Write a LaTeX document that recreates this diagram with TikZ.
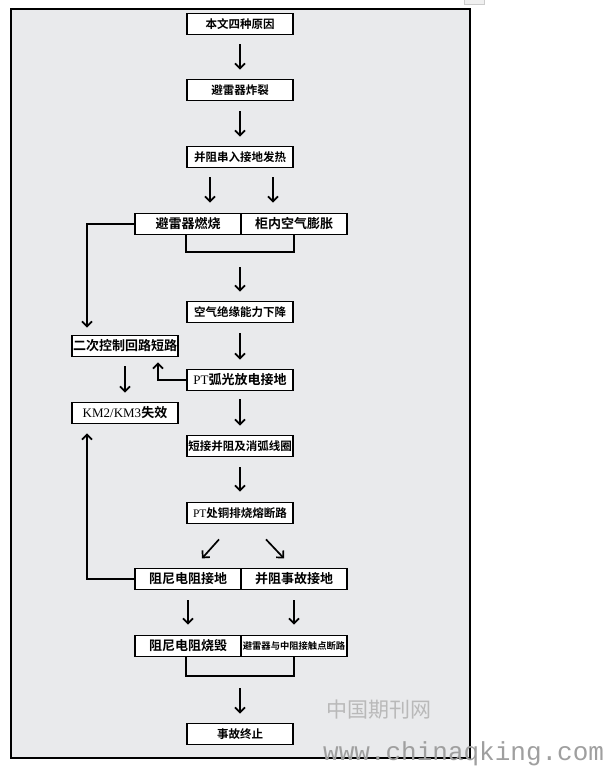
\documentclass[tikz,border=0pt]{standalone}
\usepackage{fontspec}
\setmainfont{Liberation Serif}
\newfontfamily\cjkb{Noto Sans CJK SC Bold}
\newfontfamily\cjk{Noto Sans CJK SC}
\newfontfamily\wmono{Liberation Mono}
\usetikzlibrary{arrows.meta}
\definecolor{bgc}{HTML}{E9EAEC}
\newcommand{\fs}[1]{\fontsize{#1}{#1}\selectfont}
\begin{document}
\begin{tikzpicture}[x=1pt,y=-1pt,
  box/.style={draw, line width=1.8pt, fill=white, minimum width=106pt, minimum height=21pt, inner sep=0pt, font=\cjkb\fs{11.5}},
  bigbox/.style={box, font=\cjkb\fs{13}},
  arr/.style={line width=1.7pt, -{Straight Barb[length=5pt,width=10pt,line width=1.7pt]}},
  ln/.style={line width=1.7pt}]
\useasboundingbox (0,0) rectangle (605,768);
\fill[white] (0,0) rectangle (605,768);
\draw[line width=2pt, fill=bgc] (11,9) rectangle (470,758);
\draw[gray!40, fill=gray!12] (464,-1) rectangle (484,4);

\node[box] (a) at (240,24) {本文四种原因};
\node[box] (b) at (240,90) {避雷器炸裂};
\node[box] (c) at (240,157) {并阻串入接地发热};
\node[bigbox] (dl) at (188,224) {避雷器燃烧};
\node[bigbox] (dr) at (294,224) {柜内空气膨胀};
\node[box] (e) at (240,312) {空气绝缘能力下降};
\node[bigbox] (f) at (240,380) {{\rmfamily PT}弧光放电接地};
\node[bigbox] (g) at (125,346) {二次控制回路短路};
\node[bigbox] (h) at (125,413) {{\rmfamily KM2/KM3}失效};
\node[box] (i) at (240,446) {短接并阻及消弧线圈};
\node[box] (j) at (240,513) {{\rmfamily PT}处铜排烧熔断路};
\node[bigbox] (kl) at (188,579) {阻尼电阻接地};
\node[bigbox] (kr) at (294,579) {并阻事故接地};
\node[bigbox] (ml) at (188,646) {阻尼电阻烧毁};
\node[box, font=\cjkb\fs{9.3}] (mr) at (294,646) {避雷器与中阻接触点断路};
\node[box] (n) at (240,734) {事故终止};

\coordinate (p1) at (240,252);
\coordinate (p2) at (240,676);

\draw[arr, shorten <=9pt, shorten >=9pt] (a) -- (b);
\draw[arr, shorten <=10pt, shorten >=9pt] (b) -- (c);
\draw[arr, shorten <=9pt, shorten >=10pt] ([xshift=-30pt]c.south) -- ([xshift=-30pt]c.south |- dl.north);
\draw[arr, shorten <=9pt, shorten >=10pt] ([xshift=33pt]c.south) -- ([xshift=33pt]c.south |- dr.north);
\draw[ln] (e.west |- dl.south) |- (p1) -| (e.east |- dr.south);
\draw[arr, shorten <=15pt, shorten >=9pt] (p1) -- (e);
\draw[arr, shorten <=10pt, shorten >=9pt] (e) -- (f);
\draw[arr, shorten <=8pt, shorten >=9pt] (f) -- (i);
\draw[arr, shorten <=10pt, shorten >=10pt] (i) -- (j);
\draw[arr] ([xshift=-21pt,yshift=-15pt]j.south) -- ([xshift=-38pt,yshift=-34pt]j.south);
\draw[arr] ([xshift=26pt,yshift=-15pt]j.south) -- ([xshift=44pt,yshift=-34pt]j.south);
\draw[arr, shorten <=10pt, shorten >=10pt] (kl) -- (ml);
\draw[arr, shorten <=10pt, shorten >=10pt] (kr) -- (mr);
\draw[ln] (e.west |- ml.south) |- (p2) -| (e.east |- mr.south);
\draw[arr, shorten <=12pt, shorten >=9pt] (p2) -- (n);

\draw[arr, shorten >=7pt] (dl.west) -| ([xshift=-38pt]g.north);
\draw[arr, shorten >=5pt] (f.west) -| ([xshift=33pt]g.south);
\draw[arr, shorten <=9pt, shorten >=9pt] (g) -- (h);
\draw[arr, shorten >=9pt] (kl.west) -| ([xshift=-38pt]h.south);

\node[anchor=west, inner sep=0pt, text=gray!55, font=\cjk\fs{21}] (w1) at (326,710) {中国期刊网};
\node[anchor=west, inner sep=0pt, text=gray!75, font=\wmono\fs{26}] (w2) at (323,754) {www.chinaqking.com};
\end{tikzpicture}
\end{document}
